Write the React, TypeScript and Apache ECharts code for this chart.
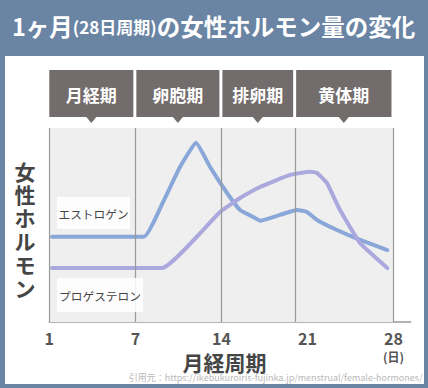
import React, { useEffect, useRef } from "react";
import * as echarts from "echarts";

const tickValues = [0, 7, 14, 21, 28];
const tickLabels = ["1", "7", "14", "21", "28"];
const phaseNames = ["月経期", "卵胞期", "排卵期", "黄体期"];
const phaseStarts = [0, 7, 14, 20];
const phaseEnds = [7, 14, 20, 28];
const yAxisTitleChars = ["女", "性", "ホ", "ル", "モ", "ン"];

const estrogenDays = [0.22, 7.7, 9.25, 10.63, 11.94, 13.08, 14.46, 15.52, 16.74, 17.14, 18.77, 20.15, 20.96, 21.78, 23.41, 25.28, 27.5];
const estrogenLevels = [44, 44, 61.8, 79.9, 92.4, 79.9, 66.5, 57.7, 53.6, 52.2, 55.2, 57.7, 56.7, 52.6, 47.4, 42.3, 37.1];
const progesteroneDays = [0.22, 9.17, 13.89, 15.52, 17.14, 19.58, 21.21, 21.78, 22.59, 23.65, 25.28, 27.5];
const progesteroneLevels = [27.8, 27.8, 56.7, 63.9, 69.6, 75.8, 77.5, 76.8, 71.6, 57.7, 40.7, 27.8];

const FONT = "'Noto Sans CJK JP', 'Noto Sans', sans-serif";
const FRAME = "#6a84a4";
const BOX = "#736c6c";

export default function App() {
  const ref = useRef<HTMLDivElement>(null);
  useEffect(() => {
    if (!ref.current) return;
    const chart = echarts.init(ref.current, null, { renderer: "svg" });
    const pair = (xs: number[], ys: number[]) => xs.map((x, i) => [x, ys[i]]);
    chart.setOption({
      animation: false,
      backgroundColor: "#ffffff",
      textStyle: { fontFamily: FONT },
      grid: { left: 49.3, right: 17.3, top: 128, bottom: 66 },
      xAxis: {
        type: "value",
        min: 0,
        max: 29.4,
        axisLine: { show: true, lineStyle: { color: "#9a9a9a", width: 1.5 } },
        axisTick: { show: false },
        splitLine: { show: false },
        axisLabel: {
          customValues: tickValues,
          formatter: (v: number) => tickLabels[tickValues.indexOf(v)] ?? "",
          color: "#555",
          fontSize: 16,
          fontWeight: "bold",
          margin: 8,
          fontFamily: FONT,
        },
      },
      yAxis: { type: "value", min: 0, max: 100, show: false },
      series: [
        {
          type: "line",
          name: "background",
          data: [],
          markArea: {
            silent: true,
            itemStyle: { color: "#efefef" },
            data: [[{ xAxis: 0 }, { xAxis: 28 }]],
          },
          markLine: {
            silent: true,
            symbol: "none",
            label: { show: false },
            lineStyle: { color: "#9a9a9a", width: 1.2, type: "solid" },
            data: [0, ...phaseEnds].map((v) => ({ xAxis: v })),
          },
        },
        {
          type: "line",
          name: "エストロゲン",
          data: pair(estrogenDays, estrogenLevels),
          smooth: 0.12,
          showSymbol: false,
          lineStyle: { color: "#8aa7d9", width: 4, cap: "round", join: "round" },
        },
        {
          type: "line",
          name: "プロゲステロン",
          data: pair(progesteroneDays, progesteroneLevels),
          smooth: 0.12,
          showSymbol: false,
          lineStyle: { color: "#aba8de", width: 4, cap: "round", join: "round" },
        },
      ],
    });

    const px = (v: number) => chart.convertToPixel({ xAxisIndex: 0 }, v) as number;
    const graphics: any[] = [
      { type: "rect", shape: { x: 0, y: 0, width: 428, height: 56 }, style: { fill: FRAME } },
      { type: "rect", shape: { x: 0, y: 0, width: 5, height: 388 }, style: { fill: FRAME } },
      { type: "rect", shape: { x: 424, y: 0, width: 4, height: 388 }, style: { fill: FRAME } },
      { type: "rect", shape: { x: 0, y: 384, width: 428, height: 4 }, style: { fill: FRAME } },
      {
        type: "text",
        x: 12,
        y: 26,
        style: {
          text: "{a|1ヶ月}{b|(28日周期)}{a|の女性ホルモン量の変化}",
          verticalAlign: "middle",
          rich: {
            a: { fontSize: 23.5, fontWeight: "bold", fill: "#ffffff", fontFamily: FONT },
            b: { fontSize: 17, fontWeight: "bold", fill: "#ffffff", fontFamily: FONT },
          },
        },
      },
    ];
    phaseNames.forEach((name, i) => {
      const x0 = px(phaseStarts[i]) + (i === 0 ? 0 : 1);
      const x1 = px(phaseEnds[i]) - 2;
      const cx = (x0 + x1) / 2;
      graphics.push(
        { type: "rect", shape: { x: x0, y: 70, width: x1 - x0, height: 47 }, style: { fill: BOX } },
        { type: "polygon", shape: { points: [[cx - 5, 117], [cx + 5, 117], [cx, 123]] }, style: { fill: BOX } },
        {
          type: "text",
          x: cx,
          y: 94,
          style: {
            text: name,
            fill: "#fff",
            fontSize: 17,
            fontWeight: "bold",
            fontFamily: FONT,
            align: "center",
            verticalAlign: "middle",
          },
        }
      );
    });
    yAxisTitleChars.forEach((ch, i) => {
      graphics.push({
        type: "text",
        x: 25,
        y: 170.5 + i * 23.4,
        style: {
          text: ch,
          fill: "#454545",
          fontSize: 21,
          fontWeight: "bold",
          fontFamily: FONT,
          align: "center",
          verticalAlign: "middle",
        },
      });
    });
    graphics.push(
      { type: "rect", z: 100, shape: { x: 57, y: 197, width: 73, height: 32 }, style: { fill: "rgba(255,255,255,0.85)" } },
      {
        type: "text", z: 101, x: 93.5, y: 213,
        style: { text: "エストロゲン", fill: "#444", fontSize: 11.7, fontFamily: FONT, align: "center", verticalAlign: "middle" },
      },
      { type: "rect", z: 100, shape: { x: 57, y: 278, width: 86, height: 34 }, style: { fill: "rgba(255,255,255,0.85)" } },
      {
        type: "text", z: 101, x: 100, y: 295,
        style: { text: "プロゲステロン", fill: "#444", fontSize: 11.7, fontFamily: FONT, align: "center", verticalAlign: "middle" },
      },
      {
        type: "text", x: px(14) + 3, y: 362,
        style: { text: "月経周期", fill: "#454545", fontSize: 21, fontWeight: "bold", fontFamily: FONT, align: "center", verticalAlign: "middle" },
      },
      {
        type: "text", x: px(28), y: 356,
        style: { text: "(日)", fill: "#555", fontSize: 12, fontWeight: "bold", fontFamily: FONT, align: "center", verticalAlign: "middle" },
      },
      {
        type: "text", x: 422.5, y: 377,
        style: {
          text: "引用元：https://ikebukuroiris-fujinka.jp/menstrual/female-hormones/",
          fill: "#b8b8b8",
          fontSize: 9,
          fontFamily: FONT,
          align: "right",
          verticalAlign: "middle",
        },
      }
    );
    chart.setOption({ graphic: graphics });
    return () => chart.dispose();
  }, []);
  return <div ref={ref} style={{ position: "fixed", left: 0, top: 0, width: 428, height: 388 }} />;
}
